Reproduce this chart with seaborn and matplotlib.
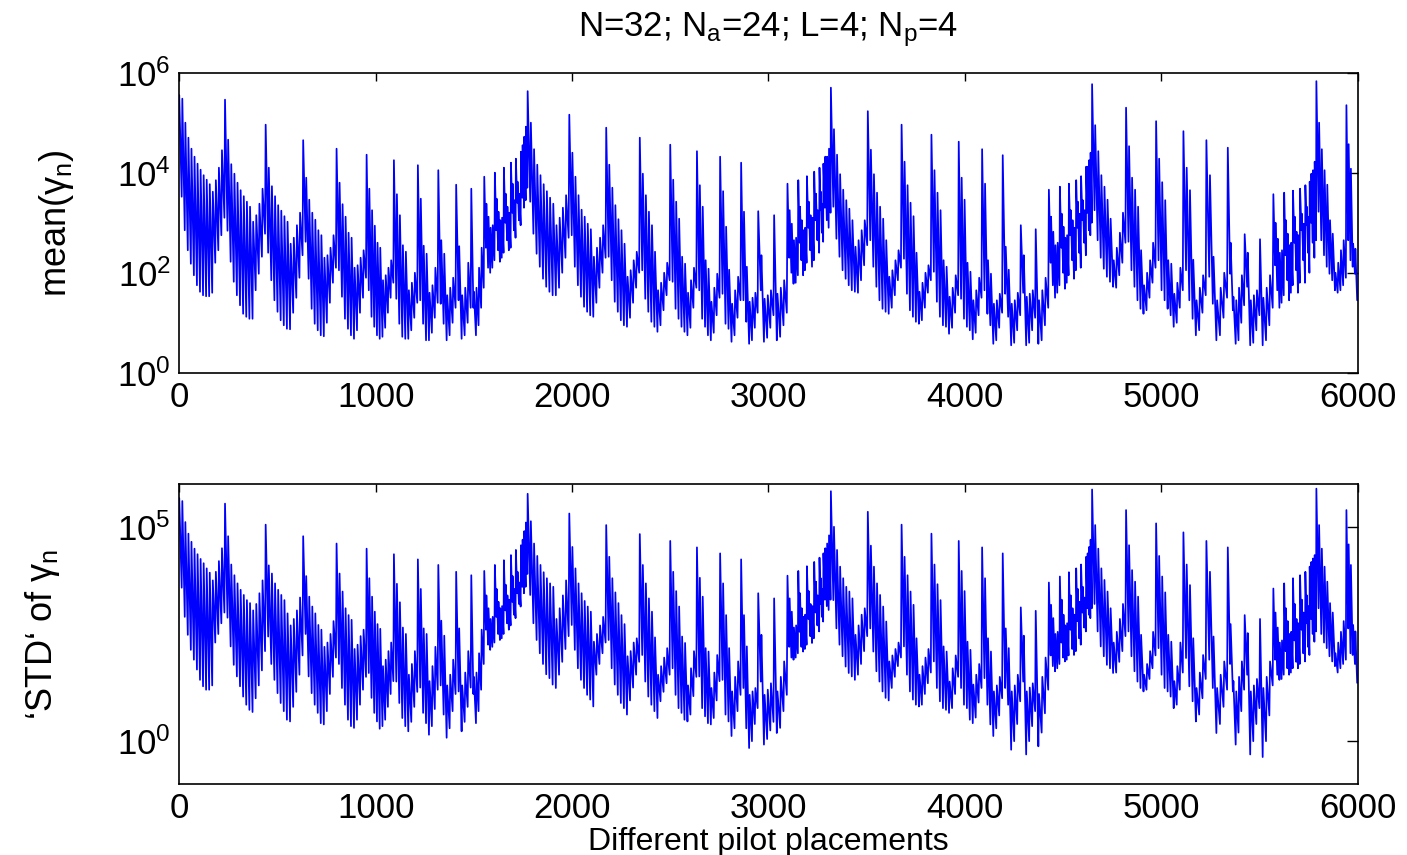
import matplotlib
matplotlib.use("Agg")
import matplotlib.pyplot as plt
import seaborn as sns
import pandas as pd
from matplotlib.ticker import NullLocator

# x where each group of teeth starts (pilot placement index), last group ends at 6000
group_start = [0, 233, 440, 631, 801, 954, 1093, 1215, 1319, 1410, 1487,
               1553, 1607, 1653, 1689, 1714, 1740,
               1774, 1986, 2174, 2345, 2500, 2636, 2754, 2861, 2948, 3029,
               3097, 3152, 3196, 3233, 3260, 3280,
               3318, 3506, 3678, 3830, 3969, 4088, 4193, 4285, 4361,
               4428, 4484, 4530, 4567, 4592, 4618,
               4648, 4821, 4974, 5113, 5230, 5339, 5425, 5503,
               5571, 5626, 5671, 5707, 5734, 5756,
               5790, 5943]
x_end = 6000

# mean(gamma_n): log10 of tooth tops / tooth bottoms, one list per group
mean_peak_exp = [
    [5.55, 5.48, 5.0, 4.70, 4.48, 4.32, 4.18, 4.06, 3.95, 3.86, 3.77, 3.62, 3.85, 4.1, 4.45],
    [5.46, 4.66, 4.17, 3.98, 3.80, 3.65, 3.53, 3.42, 3.32, 3.02, 3.15, 3.38, 3.68],
    [4.96, 4.10, 3.73, 3.53, 3.35, 3.24, 3.13, 3.02, 2.58, 2.7, 2.95, 3.2],
    [4.65, 3.90, 3.46, 3.2, 3.06, 2.85, 2.75, 2.3, 2.35, 2.5, 2.75],
    [4.48, 3.80, 3.37, 3.12, 2.8, 2.7, 2.1, 2.15, 2.3, 2.45],
    [4.36, 3.68, 3.25, 2.94, 2.6, 2.5, 1.85, 1.95, 2.1, 2.25],
    [4.25, 3.57, 3.15, 2.55, 2.42, 1.65, 1.8, 2.0],
    [4.15, 3.48, 2.54, 2.38, 1.6, 1.75, 2.1],
    [4.05, 2.65, 2.38, 1.55, 1.7, 1.9],
    [3.76, 2.53, 1.55, 1.7, 2.2],
    [3.68, 1.62, 1.7, 2.1, 2.5],
    [3.92, 3.38, 3.12, 2.9, 2.95],
    [4.0, 3.48, 3.22, 3.05, 3.1],
    [4.1, 3.58, 3.32, 3.2],
    [4.2, 3.78, 3.45],
    [4.28, 3.82, 3.58],
    [4.42, 4.55, 4.72, 4.92],
    [5.63, 5.0, 4.47, 4.16, 3.95, 3.77, 3.63, 3.5, 3.38, 2.95, 3.1, 3.3, 3.55],
    [5.16, 4.4, 3.92, 3.55, 3.26, 3.12, 2.98, 2.87, 2.32, 2.5, 2.7, 2.95],
    [4.9, 4.16, 3.7, 3.35, 3.07, 2.85, 2.58, 1.92, 2.05, 2.25, 2.42],
    [4.7, 3.98, 3.55, 3.22, 2.95, 2.42, 1.65, 1.8, 2.0, 2.2],
    [4.56, 3.86, 3.42, 3.08, 2.32, 2.18, 1.6, 1.85, 2.1],
    [4.43, 3.75, 3.32, 2.25, 2.08, 1.42, 1.7, 1.98],
    [4.32, 3.63, 2.92, 2.06, 1.38, 1.65, 1.92],
    [4.2, 3.22, 2.12, 1.42, 1.5, 1.6],
    [3.23, 2.35, 1.48, 1.55, 1.65],
    [3.15, 1.58, 1.7, 1.85],
    [3.78, 3.25, 2.98, 2.65, 2.7],
    [3.85, 3.32, 3.05, 2.85, 2.9],
    [3.93, 3.42, 3.15, 3.1],
    [4.02, 3.58, 3.25],
    [4.1, 3.62, 3.38],
    [4.18, 4.32, 4.32, 4.48],
    [5.7, 4.87, 4.36, 3.97, 3.66, 3.45, 3.28, 3.05, 2.52, 2.65, 2.85, 3.05],
    [5.23, 4.46, 3.97, 3.6, 3.32, 3.08, 2.65, 1.92, 2.05, 2.25, 2.45],
    [4.96, 4.22, 3.75, 3.4, 3.13, 2.4, 1.62, 1.8, 2.0, 2.15],
    [4.76, 4.05, 3.6, 3.25, 2.25, 2.12, 1.52, 1.7, 1.95],
    [4.62, 3.9, 3.46, 2.2, 2.02, 1.45, 1.65, 1.9],
    [4.47, 3.78, 2.25, 1.98, 1.38, 1.45, 1.58],
    [4.35, 2.52, 2.06, 1.38, 1.45, 1.6],
    [2.95, 2.35, 1.52, 1.58, 1.65],
    [2.87, 1.45, 1.65, 1.9],
    [3.66, 3.12, 2.82, 2.55, 2.6],
    [3.72, 3.18, 2.92, 2.7, 2.75],
    [3.78, 3.25, 3.05, 2.9],
    [3.85, 3.42, 3.18],
    [3.93, 3.45, 3.25],
    [4.12, 4.12, 4.25, 4.4],
    [5.77, 4.95, 4.43, 3.95, 3.72, 3.46, 3.08, 2.25, 2.5, 2.8, 3.2],
    [5.3, 4.53, 3.9, 3.66, 3.32, 2.45, 1.75, 2.0, 2.25, 2.6],
    [5.03, 4.28, 3.81, 3.45, 2.25, 2.18, 1.58, 1.8, 2.1],
    [4.83, 4.1, 3.65, 2.26, 1.45, 1.7, 1.95],
    [4.65, 3.95, 2.32, 1.45, 1.7, 2.0],
    [4.5, 2.6, 1.52, 1.45, 1.7, 1.95],
    [2.77, 2.4, 1.45, 1.55, 1.65],
    [2.67, 1.5, 1.7, 1.95],
    [3.57, 3.0, 2.68, 2.4, 2.45],
    [3.6, 3.05, 2.78, 2.55, 2.6],
    [3.64, 3.12, 2.82, 2.75],
    [3.68, 3.18, 2.98],
    [3.75, 3.32, 3.12],
    [3.82, 3.98, 4.05, 4.22],
    [5.83, 5.0, 4.47, 4.05, 3.76, 3.05, 2.78, 2.0, 2.2, 2.45, 2.65],
    [5.35, 4.57, 4.08, 2.58, 2.48],
]
mean_trough_exp = [
    [3.52, 2.85, 2.45, 2.18, 1.95, 1.75, 1.62, 1.55, 1.53, 1.53, 1.6, 2.2, 2.45, 2.75, 3.1],
    [2.84, 2.22, 1.82, 1.55, 1.35, 1.18, 1.12, 1.08, 1.08, 1.65, 1.98, 2.32, 2.78],
    [2.4, 1.85, 1.45, 1.22, 1.05, 0.95, 0.88, 0.87, 1.2, 1.5, 1.9, 2.35],
    [2.62, 1.88, 1.28, 0.98, 0.85, 0.75, 0.73, 1.0, 1.4, 1.8, 2.1],
    [2.05, 1.52, 1.08, 0.88, 0.75, 0.68, 0.85, 1.2, 1.5, 1.9],
    [1.65, 1.12, 0.92, 0.75, 0.68, 0.72, 0.9, 1.2, 1.5, 1.8],
    [1.48, 0.98, 0.72, 0.68, 0.68, 0.85, 1.1, 1.4],
    [1.45, 0.98, 0.65, 0.65, 0.8, 1.1, 1.4],
    [1.38, 0.98, 0.65, 0.75, 1.0, 1.3],
    [1.45, 0.68, 0.75, 1.0, 1.3],
    [1.3, 0.75, 0.95, 1.3, 1.7],
    [2.5, 2.1, 2.0, 2.1, 2.25],
    [2.85, 2.45, 2.22, 2.3, 2.4],
    [3.0, 2.65, 2.45, 2.5],
    [3.2, 2.85, 2.7],
    [3.4, 3.05, 2.95],
    [3.5, 3.3, 3.45, 3.7],
    [3.42, 2.78, 2.38, 2.12, 1.88, 1.72, 1.62, 1.55, 1.55, 1.7, 2.0, 2.3, 2.7],
    [2.75, 2.12, 1.75, 1.52, 1.32, 1.22, 1.15, 1.12, 1.4, 1.7, 2.0, 2.3],
    [2.32, 1.85, 1.42, 1.22, 1.05, 0.95, 0.92, 1.1, 1.4, 1.7, 2.0],
    [2.05, 1.48, 1.22, 1.02, 0.92, 0.82, 0.95, 1.25, 1.55, 1.85],
    [1.82, 1.28, 1.08, 0.92, 0.82, 0.75, 0.9, 1.3, 1.7],
    [1.65, 1.08, 0.92, 0.75, 0.65, 0.8, 1.15, 1.5],
    [1.58, 0.98, 0.88, 0.62, 0.75, 1.1, 1.45],
    [1.45, 1.02, 0.58, 0.65, 0.9, 1.2],
    [1.65, 0.62, 0.7, 0.9, 1.15],
    [0.65, 0.72, 0.95, 1.2],
    [2.3, 2.0, 1.78, 1.8, 1.95],
    [2.6, 2.25, 1.95, 2.05, 2.2],
    [2.9, 2.45, 2.12, 2.25],
    [3.05, 2.65, 2.4],
    [3.25, 2.8, 2.62],
    [3.3, 3.05, 2.9, 3.2],
    [3.32, 2.68, 2.32, 2.05, 1.88, 1.75, 1.65, 1.62, 1.6, 1.85, 2.15, 2.55],
    [2.65, 2.12, 1.72, 1.45, 1.28, 1.22, 1.18, 1.3, 1.55, 1.85, 2.1],
    [2.28, 1.58, 1.25, 1.12, 1.02, 0.98, 1.05, 1.3, 1.6, 1.85],
    [2.02, 1.42, 1.12, 0.95, 0.92, 0.78, 0.9, 1.2, 1.55],
    [1.48, 1.08, 0.92, 0.85, 0.67, 0.8, 1.15, 1.5],
    [1.65, 1.18, 0.95, 0.58, 0.65, 0.9, 1.2],
    [1.58, 1.12, 0.55, 0.6, 0.85, 1.15],
    [1.6, 0.55, 0.6, 0.85, 1.1],
    [0.58, 0.65, 0.95, 1.3],
    [2.2, 1.75, 1.5, 1.6, 1.75],
    [2.5, 2.0, 1.68, 1.8, 1.95],
    [2.75, 2.25, 1.88, 2.05],
    [2.9, 2.4, 2.1],
    [3.05, 2.6, 2.35],
    [3.2, 2.85, 2.75, 3.0],
    [3.25, 2.65, 2.3, 2.08, 1.92, 1.82, 1.72, 1.7, 1.95, 2.2, 2.6],
    [2.62, 2.05, 1.72, 1.45, 1.28, 1.18, 1.25, 1.5, 1.8, 2.1],
    [2.25, 1.65, 1.45, 1.28, 1.15, 0.92, 1.0, 1.3, 1.65],
    [2.05, 1.45, 1.08, 0.75, 0.85, 1.2, 1.55],
    [1.92, 1.38, 0.65, 0.75, 1.1, 1.5],
    [1.98, 1.25, 0.58, 0.65, 1.0, 1.35],
    [1.72, 0.55, 0.6, 0.85, 1.15],
    [0.55, 0.65, 0.95, 1.3],
    [2.15, 1.65, 1.3, 1.4, 1.55],
    [2.35, 1.85, 1.45, 1.6, 1.75],
    [2.6, 2.05, 1.6, 1.8],
    [2.85, 2.25, 1.8],
    [2.95, 2.4, 2.0],
    [3.0, 2.6, 2.3, 2.65],
    [3.22, 2.65, 2.35, 2.12, 1.98, 1.85, 1.65, 1.6, 1.65, 1.75, 1.9],
    [2.65, 2.25, 2.12, 1.98, 1.45],
]

# 'STD' of gamma_n: log10 of tooth tops / tooth bottoms, one list per group
std_peak_exp = [
    [5.67, 5.6, 5.11, 4.84, 4.65, 4.49, 4.36, 4.25, 4.15, 4.03, 3.93, 3.75, 3.95, 4.2, 4.5],
    [5.54, 4.78, 4.12, 3.87, 3.68, 3.53, 3.41, 3.29, 3.22, 3.05, 3.2, 3.45, 3.75],
    [5.05, 4.1, 3.91, 3.68, 3.53, 3.41, 3.29, 2.98, 2.7, 2.85, 3.05, 3.35],
    [4.78, 3.85, 3.37, 3.14, 2.98, 2.71, 2.6, 2.2, 2.3, 2.5, 2.8],
    [4.61, 3.91, 3.49, 3.1, 2.94, 2.83, 2.15, 2.25, 2.45, 2.6],
    [4.49, 3.8, 3.37, 3.02, 2.73, 2.62, 1.75, 1.9, 2.1, 2.3],
    [4.36, 3.67, 3.24, 2.65, 2.5, 1.55, 1.8, 2.1],
    [4.24, 3.55, 2.63, 2.5, 1.4, 1.75, 2.2],
    [4.11, 2.81, 2.46, 1.3, 1.55, 1.9],
    [3.95, 2.63, 1.3, 1.6, 2.1],
    [3.87, 1.5, 1.6, 2.05, 2.6],
    [3.97, 3.4, 3.1, 2.85, 2.9],
    [4.11, 3.55, 3.25, 3.1, 3.15],
    [4.22, 3.65, 3.4, 3.3],
    [4.34, 3.85, 3.55],
    [4.46, 3.95, 3.7],
    [4.57, 4.7, 4.9, 5.1],
    [5.77, 5.13, 4.61, 4.32, 4.11, 3.94, 3.8, 3.68, 3.6, 2.85, 3.1, 3.4, 3.75],
    [5.31, 4.53, 4.03, 3.68, 3.45, 3.27, 3.14, 3.02, 2.32, 2.5, 2.7, 2.9],
    [5.04, 4.3, 3.8, 3.47, 3.22, 2.94, 2.73, 1.98, 2.1, 2.3, 2.4],
    [4.83, 4.11, 3.68, 3.33, 3.02, 2.42, 1.55, 1.75, 1.95, 2.17],
    [4.67, 3.95, 3.5, 3.14, 2.44, 2.29, 1.3, 1.7, 2.1],
    [4.52, 3.81, 3.37, 2.17, 2.09, 1.24, 1.6, 2.01],
    [4.38, 3.68, 2.94, 2.17, 1.16, 1.5, 1.86],
    [4.24, 2.94, 2.21, 1.08, 1.16, 1.24],
    [3.45, 2.48, 1.08, 1.2, 1.35],
    [3.33, 1.16, 1.5, 1.86],
    [3.86, 3.33, 3.02, 2.65, 2.7],
    [3.97, 3.45, 3.1, 2.9, 2.95],
    [4.08, 3.5, 3.2, 3.15],
    [4.18, 3.72, 3.4],
    [4.28, 3.8, 3.55],
    [4.38, 4.5, 4.61, 4.8],
    [5.83, 5.0, 4.46, 4.07, 3.8, 3.6, 3.49, 3.33, 2.48, 2.7, 2.95, 3.1],
    [5.35, 4.56, 4.07, 3.68, 3.41, 3.14, 2.79, 1.86, 2.0, 2.15, 2.3],
    [5.05, 4.3, 3.87, 3.49, 3.18, 2.4, 1.55, 1.75, 1.95, 2.15],
    [4.84, 4.12, 3.66, 3.29, 2.21, 2.09, 1.39, 1.7, 2.0],
    [4.67, 3.97, 3.5, 2.32, 2.13, 1.32, 1.55, 1.8],
    [4.52, 3.8, 2.4, 2.09, 1.16, 1.3, 1.5],
    [4.38, 2.63, 2.17, 1.16, 1.3, 1.55],
    [3.12, 2.46, 1.16, 1.25, 1.35],
    [3.04, 1.1, 1.5, 1.95],
    [3.7, 3.18, 2.87, 2.5, 2.55],
    [3.84, 3.3, 2.95, 2.7, 2.75],
    [3.94, 3.4, 3.1, 2.95],
    [4.03, 3.55, 3.25],
    [4.12, 3.6, 3.35],
    [4.3, 4.38, 4.53, 4.7],
    [5.87, 5.04, 4.49, 4.03, 3.76, 3.49, 3.1, 2.3, 2.55, 2.85, 3.2],
    [5.39, 4.57, 3.99, 3.72, 3.37, 2.48, 1.55, 1.8, 2.1, 2.55],
    [5.08, 4.32, 3.84, 3.47, 2.48, 2.32, 1.4, 1.75, 2.3],
    [4.87, 4.12, 3.64, 2.4, 1.24, 1.6, 2.01],
    [4.67, 3.95, 2.44, 1.24, 1.55, 1.86],
    [4.52, 2.73, 1.4, 1.16, 1.5, 1.86],
    [2.94, 2.52, 1.16, 1.3, 1.45],
    [2.85, 1.24, 1.5, 1.86],
    [3.56, 3.0, 2.65, 2.3, 2.35],
    [3.68, 3.1, 2.8, 2.5, 2.55],
    [3.8, 3.2, 2.85, 2.75],
    [3.87, 3.3, 3.0],
    [3.95, 3.4, 3.15],
    [4.07, 4.18, 4.26, 4.34],
    [5.89, 5.04, 4.49, 4.07, 3.72, 3.22, 3.0, 2.05, 2.3, 2.55, 2.8],
    [5.39, 4.59, 4.11, 2.71, 2.56],
]
std_trough_exp = [
    [3.58, 2.9, 2.48, 2.13, 1.9, 1.67, 1.43, 1.28, 1.2, 1.2, 1.3, 2.3, 2.5, 2.75, 3.0],
    [2.88, 2.21, 1.78, 1.51, 1.28, 1.04, 0.85, 0.73, 0.68, 1.0, 1.3, 1.65, 2.1],
    [2.44, 1.8, 1.43, 1.12, 0.89, 0.7, 0.5, 0.46, 0.8, 1.15, 1.55, 2.0],
    [2.5, 1.51, 1.12, 0.85, 0.66, 0.42, 0.39, 0.7, 1.1, 1.5, 1.95],
    [1.8, 1.24, 0.85, 0.5, 0.35, 0.31, 0.5, 0.85, 1.2, 1.5],
    [1.59, 1.01, 0.66, 0.46, 0.29, 0.35, 0.5, 0.8, 1.1, 1.4],
    [1.39, 0.89, 0.54, 0.35, 0.23, 0.45, 0.8, 1.15],
    [1.25, 0.66, 0.42, 0.15, 0.35, 0.75, 1.2],
    [1.3, 0.62, 0.08, 0.3, 0.7, 1.1],
    [1.16, 0.23, 0.45, 0.8, 1.25],
    [1.1, 0.42, 0.7, 1.2, 1.8],
    [2.6, 2.25, 2.13, 2.2, 2.3],
    [2.9, 2.5, 2.36, 2.4, 2.5],
    [3.05, 2.75, 2.6, 2.7],
    [3.25, 2.95, 2.87],
    [3.45, 3.2, 3.14],
    [3.6, 3.45, 3.6, 3.9],
    [3.41, 2.75, 2.36, 2.05, 1.8, 1.56, 1.47, 1.32, 1.24, 1.55, 1.85, 2.15, 2.45],
    [2.71, 2.13, 1.7, 1.43, 1.24, 1.08, 0.97, 0.81, 1.55, 1.8, 2.05, 2.3],
    [2.36, 1.7, 1.32, 1.08, 0.89, 0.77, 0.62, 0.95, 1.25, 1.55, 1.85],
    [2.01, 1.39, 1.04, 0.85, 0.7, 0.54, 0.93, 1.15, 1.35, 1.55],
    [1.7, 1.08, 0.77, 0.66, 0.5, 0.46, 0.62, 1.05, 1.5],
    [1.51, 0.77, 0.58, 0.42, 0.39, 0.54, 0.95, 1.4],
    [1.43, 0.62, 0.46, 0.12, 0.3, 0.7, 1.08],
    [1.24, 0.3, -0.16, 0.0, 0.4, 0.77],
    [1.39, -0.08, 0.05, 0.25, 0.45],
    [0.19, 0.31, 0.7, 1.08],
    [2.2, 1.95, 1.9, 1.95, 2.05],
    [2.55, 2.2, 2.09, 2.15, 2.25],
    [2.85, 2.45, 2.29, 2.4],
    [3.0, 2.7, 2.56],
    [3.2, 2.9, 2.79],
    [3.3, 3.15, 3.06, 3.3],
    [3.29, 2.63, 2.25, 1.98, 1.74, 1.59, 1.51, 1.43, 1.55, 1.8, 2.1, 2.45],
    [2.63, 2.09, 1.63, 1.39, 1.16, 1.01, 0.95, 1.24, 1.5, 1.75, 1.95],
    [2.21, 1.55, 1.16, 0.97, 0.85, 0.81, 0.85, 1.1, 1.35, 1.6],
    [1.86, 1.24, 0.93, 0.77, 0.73, 0.66, 0.77, 1.1, 1.5],
    [1.24, 0.85, 0.77, 0.5, 0.42, 0.55, 0.9, 1.24],
    [1.47, 0.85, 0.39, 0.12, 0.3, 0.6, 1.0],
    [1.24, 0.85, -0.2, 0.0, 0.4, 0.93],
    [1.39, -0.31, 0.0, 0.35, 0.7],
    [-0.12, 0.2, 0.65, 1.2],
    [2.0, 1.75, 1.63, 1.7, 1.8],
    [2.3, 1.95, 1.86, 1.9, 2.0],
    [2.6, 2.15, 2.01, 2.1],
    [2.8, 2.4, 2.25],
    [3.0, 2.65, 2.56],
    [3.1, 2.95, 2.87, 3.1],
    [3.2, 2.56, 2.21, 1.98, 1.78, 1.7, 1.59, 1.6, 1.85, 2.1, 2.45],
    [2.56, 1.98, 1.63, 1.39, 1.24, 1.16, 1.2, 1.45, 1.7, 2.0],
    [2.17, 1.55, 1.24, 1.16, 1.04, 0.77, 0.85, 1.2, 1.6],
    [1.94, 1.28, 0.93, 0.46, 0.62, 1.0, 1.45],
    [1.9, 1.24, 0.19, 0.4, 0.8, 1.2],
    [1.8, 1.16, -0.08, 0.2, 0.7, 1.2],
    [1.55, -0.31, 0.0, 0.4, 0.77],
    [-0.37, 0.0, 0.6, 1.3],
    [1.9, 1.55, 1.43, 1.45, 1.55],
    [2.1, 1.7, 1.55, 1.6, 1.7],
    [2.35, 1.85, 1.7, 1.8],
    [2.6, 2.05, 1.86],
    [2.75, 2.2, 2.01],
    [2.85, 2.5, 2.32, 2.56],
    [3.1, 2.5, 2.3, 2.17, 1.98, 1.86, 1.75, 1.6, 1.7, 1.8, 1.9],
    [2.63, 2.05, 2.01, 1.8, 1.36],
]

x_ticks = [0, 1000, 2000, 3000, 4000, 5000, 6000]
mean_ticks = [1e0, 1e2, 1e4, 1e6]
std_ticks = [1e0, 1e5]


def teeth_frame(peaks, troughs):
    # each tooth: jump up to its top, then fall to its bottom before the next one
    edges = group_start + [x_end]
    xs, ys = [], []
    for g, (pk, tr) in enumerate(zip(peaks, troughs)):
        step = (edges[g + 1] - edges[g]) / len(pk)
        for k, (p, t) in enumerate(zip(pk, tr)):
            x0 = edges[g] + k * step
            xs += [x0, x0 + 0.8 * step]
            ys += [10 ** p, 10 ** t]
    return pd.DataFrame({"placement": xs, "value": ys})


mean_df = teeth_frame(mean_peak_exp, mean_trough_exp)
std_df = teeth_frame(std_peak_exp, std_trough_exp)

sns.set_style("white")
plt.rcParams["font.family"] = ["Liberation Sans", "DejaVu Sans"]
plt.rcParams["mathtext.fontset"] = "custom"
plt.rcParams["mathtext.rm"] = "Liberation Sans"
plt.rcParams["mathtext.it"] = "Liberation Sans:italic"
plt.rcParams["mathtext.default"] = "regular"
plt.rcParams["text.color"] = "black"
plt.rcParams["axes.labelcolor"] = "black"

fig = plt.figure(figsize=(14.07, 8.55), dpi=100)
ax1 = fig.add_axes([0.1274, 0.564, 0.8375, 0.351])
ax2 = fig.add_axes([0.1274, 0.083, 0.8375, 0.351])

for ax, df, ylim, yt in [(ax1, mean_df, (1e0, 1e6), mean_ticks),
                         (ax2, std_df, (1e-1, 1e6), std_ticks)]:
    sns.lineplot(data=df, x="placement", y="value", ax=ax, color=(0, 0, 1),
                 lw=1.25, estimator=None, sort=False)
    ax.set_yscale("log")
    ax.set_xlim(0, 6000)
    ax.set_ylim(*ylim)
    ax.set_xticks(x_ticks)
    ax.set_yticks(yt)
    ax.yaxis.set_minor_locator(NullLocator())
    ax.xaxis.set_minor_locator(NullLocator())
    ax.tick_params(axis="both", direction="in", top=True, right=True,
                   labelsize=25, width=1, colors="black")
    ax.tick_params(axis="y", length=8, pad=6)
    ax.tick_params(axis="x", length=6, pad=6)
    for s in ax.spines.values():
        s.set_linewidth(1.2)
        s.set_color("black")
    ax.set_xlabel("")

ax1.set_ylabel("mean(\u03b3$_n$)", fontsize=26, labelpad=30)
ax2.set_ylabel("\u2018STD\u2018 of \u03b3$_n$", fontsize=26, labelpad=40)
ax2.set_xlabel("Different pilot placements", fontsize=23, labelpad=1)
ax1.set_title("N=32; N$_a$=24; L=4; N$_p$=4", fontsize=25, pad=26)

fig.savefig("out.png", dpi=100)
